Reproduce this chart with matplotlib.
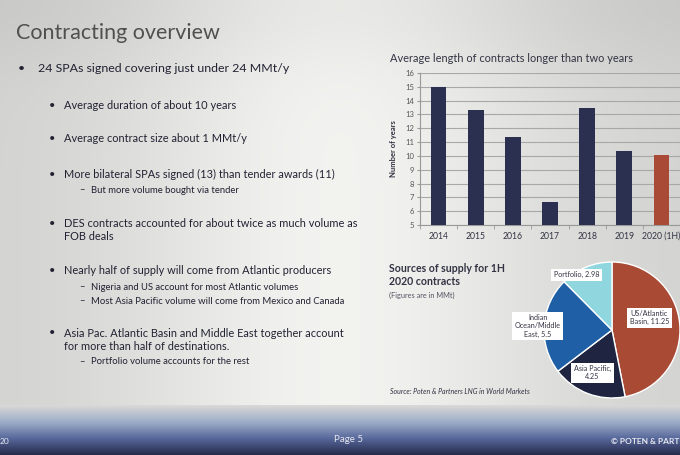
import numpy as np
import matplotlib
matplotlib.use("Agg")
import matplotlib.pyplot as plt
from matplotlib.colors import to_rgb

# ---------------- data ----------------
years = ["2014", "2015", "2016", "2017", "2018", "2019", "2020 (1H)"]
avg_length = [15.0, 13.3, 11.4, 6.7, 13.5, 10.35, 10.1]
bar_colors = ["#2b3050"] * 6 + ["#a84a35"]
y_ticks = list(range(5, 17))

sources = ["US/Atlantic\nBasin, 11.25", "Asia Pacific,\n4.25", "Indian\nOcean/Middle\nEast, 5.5", "Portfolio, 2.98"]
volumes = [11.25, 4.25, 5.5, 2.98]
pie_colors = ["#a94a35", "#1f2540", "#1f5fa6", "#8fd6de"]

bullets = [
    (0, "24 SPAs signed covering just under 24 MMt/y", 68),
    (1, "Average duration of about 10 years", 105),
    (1, "Average contract size about 1 MMt/y", 139),
    (1, "More bilateral SPAs signed (13) than tender awards (11)", 174),
    (2, "But more volume bought via tender", 190),
    (1, "DES contracts accounted for about twice as much volume as\nFOB deals", 230),
    (1, "Nearly half of supply will come from Atlantic producers", 271),
    (2, "Nigeria and US account for most Atlantic volumes", 287),
    (2, "Most Asia Pacific volume will come from Mexico and Canada", 301),
    (1, "Asia Pac. Atlantic Basin and Middle East together account\nfor more than half of destinations.", 340),
    (2, "Portfolio volume accounts for the rest", 362),
]

W, H = 680, 455
FONT = "Lato"
plt.rcParams["font.family"] = [FONT, "DejaVu Sans"]

fig = plt.figure(figsize=(W / 100, H / 100), dpi=100)

# ---------------- background (photo of slide) ----------------
bg = fig.add_axes([0, 0, 1, 1], zorder=-10)
xs = np.linspace(0, 1, W)
ys = np.linspace(0, 1, H)
X, Y = np.meshgrid(xs, ys)
base = 0.82 + 0.13 * np.exp(-((X - 0.5) / 0.32) ** 2)
base = base - 0.04 * np.exp(-(Y / 0.15) ** 2)
img = np.stack([base, base, base * 0.99], axis=-1)
stops = [(0.0, "#dcdcd8"), (0.89, "#dcdcd8"), (0.93, "#9aaac6"), (0.965, "#56679a"), (1.0, "#262c4c")]
pos = [s[0] for s in stops]
cols = np.array([to_rgb(s[1]) for s in stops])
band = np.stack([np.interp(ys, pos, cols[:, k]) for k in range(3)], axis=-1)
for j in np.where(ys > 0.89)[0]:
    img[j, :, :] = band[j]
bg.imshow(img, extent=[0, 1, 0, 1], aspect="auto", origin="upper")
bg.set_xlim(0, 1)
bg.set_ylim(0, 1)
bg.axis("off")

def fx(px):
    return px / W

def fy(py):
    return 1 - py / H

# ---------------- left text ----------------
fig.text(fx(16), fy(33), "Contracting overview", fontsize=15.5, color="#505050",
         va="center", ha="left")
levels = {0: (18, 38, 8.9, "•"), 1: (49, 64, 7.9, "•"), 2: (79, 91, 6.8, "–")}
for lvl, txt, y in bullets:
    bx, tx, fs, sym = levels[lvl]
    nlines = txt.count("\n") + 1
    ytop = y - (nlines - 1) * 7
    fig.text(fx(bx), fy(ytop), sym, fontsize=fs, color="#222233", va="center", ha="left")
    fig.text(fx(tx), fy(y), txt, fontsize=fs, color="#222233", va="center", ha="left",
             linespacing=1.2)

# ---------------- bar chart ----------------
ax = fig.add_axes([fx(420), fy(225), fx(680) - fx(420), fy(73) - fy(225)])
ax.set_facecolor("none")
x = np.arange(len(years))
ax.bar(x, avg_length, width=0.42, color=bar_colors, zorder=3)
ax.set_ylim(5, 16)
ax.set_xlim(-0.5, len(years) - 0.5)
ax.set_yticks(y_ticks)
ax.set_yticklabels([str(v) for v in y_ticks], fontsize=5.5, color="#555555")
ax.set_xticks(x)
ax.set_xticklabels(years, fontsize=6.2, color="#333344")
ax.set_xticks(np.arange(-0.5, len(years), 1.0), minor=True)
ax.tick_params(axis="x", which="major", length=0, pad=5)
ax.tick_params(axis="x", which="minor", length=3, color="#999999")
ax.tick_params(axis="y", length=2, color="#999999", pad=2)
ax.grid(axis="y", color="#a8a8a8", linewidth=0.8, zorder=0)
for s in ["top", "right"]:
    ax.spines[s].set_visible(False)
for s in ["left", "bottom"]:
    ax.spines[s].set_color("#999999")
ax.set_ylabel("Number of years", fontsize=5.5, fontweight="bold", color="#333344", labelpad=6)
fig.text(fx(390), fy(58), "Average length of contracts longer than two years",
         fontsize=7.95, color="#333344", va="center", ha="left")

# ---------------- pie chart ----------------
pax = fig.add_axes([fx(544), fy(398), fx(136), 136 / H])
pax.set_facecolor("none")
wedges, _ = pax.pie(volumes, colors=pie_colors, startangle=90, counterclock=False,
                    wedgeprops=dict(edgecolor="white", linewidth=1.0), radius=1.0)
pax.set_xlim(-1, 1)
pax.set_ylim(-1, 1)
pax.set_aspect("equal")
label_pos = [(0.55, 0.18), (-0.29, -0.63), (-1.09, 0.06), (-0.52, 0.81)]
for lab, (lx, ly) in zip(sources, label_pos):
    pax.text(lx, ly, lab, fontsize=5.2, color="#333344", ha="center", va="center",
             linespacing=1.2, zorder=5, clip_on=False,
             bbox=dict(boxstyle="square,pad=0.35", fc="white", ec="none"))

fig.text(fx(389), fy(275), "Sources of supply for 1H\n2020 contracts", fontsize=7.6,
         fontweight="bold", color="#333344", va="center", ha="left", linespacing=1.25)
fig.text(fx(389), fy(295), "(Figures are in MMt)", fontsize=5.3, color="#555566",
         va="center", ha="left")
fig.text(fx(390), fy(391), "Source: Poten & Partners LNG in World Markets", fontsize=5.0,
         style="italic", color="#333344", va="center", ha="left")

# ---------------- footer ----------------
fig.text(fx(0), fy(441), "20", fontsize=6, color="#e8e8f0", va="center", ha="left")
fig.text(fx(334), fy(440), "Page 5", fontsize=7, color="#e8e8f0", va="center", ha="left")
fig.text(fx(679), fy(441), "© POTEN & PART", fontsize=6, fontweight="bold",
         color="#e8e8f0", va="center", ha="right")

fig.savefig("out.png", dpi=100)
